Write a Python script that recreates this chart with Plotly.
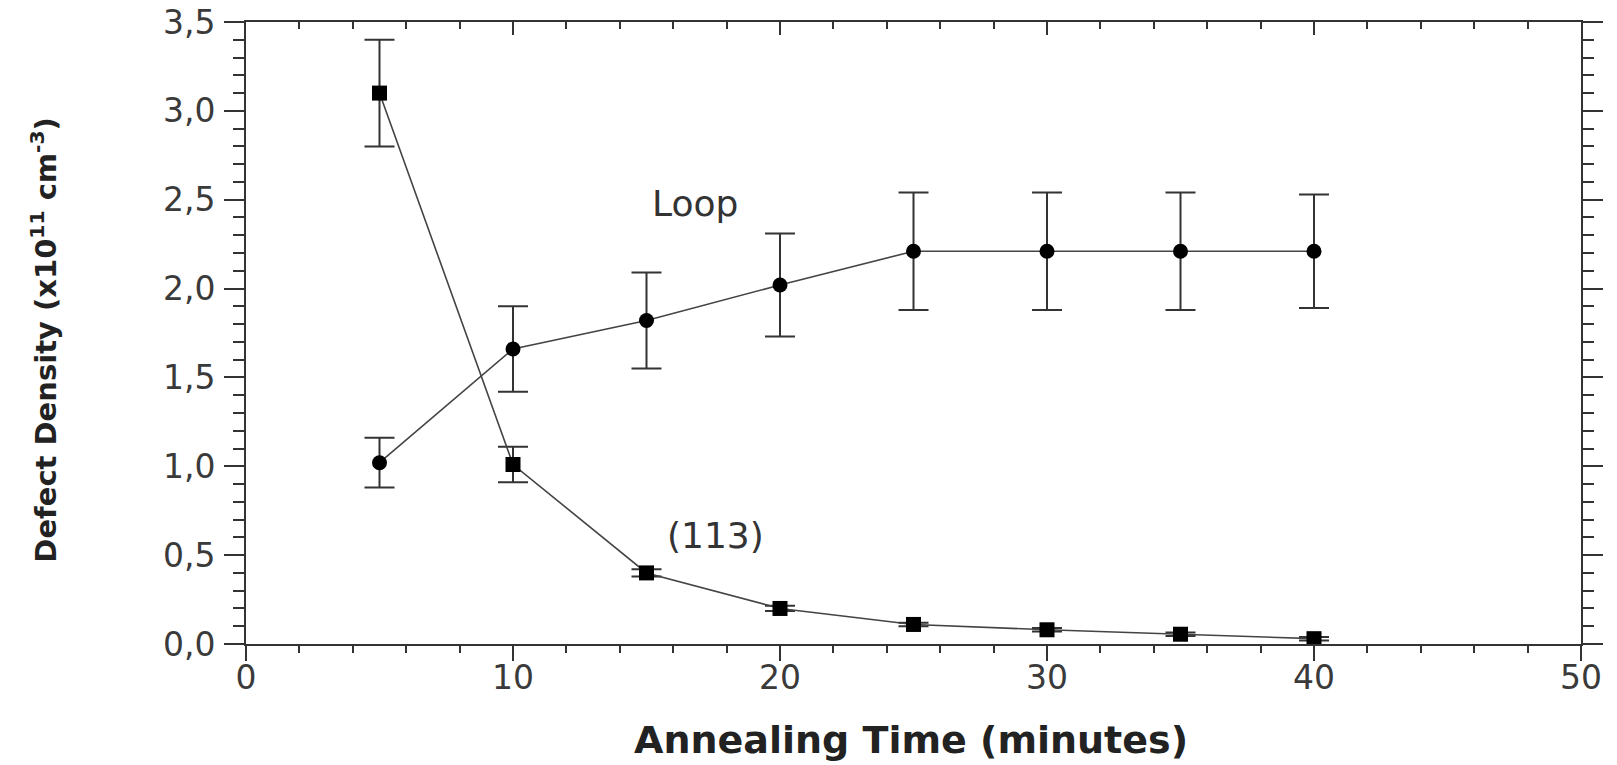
import plotly.graph_objects as go

time_min = [5, 10, 15, 20, 25, 30, 35, 40]
loop_density = [1.02, 1.66, 1.82, 2.02, 2.21, 2.21, 2.21, 2.21]
loop_err = [0.14, 0.24, 0.27, 0.29, 0.33, 0.33, 0.33, 0.32]
d113_density = [3.10, 1.01, 0.40, 0.20, 0.11, 0.08, 0.055, 0.03]
d113_err = [0.30, 0.10, 0.02, 0.015, 0.01, 0.01, 0.01, 0.01]

y_tickvals = [0.0, 0.5, 1.0, 1.5, 2.0, 2.5, 3.0, 3.5]
y_ticktext = ["0,0", "0,5", "1,0", "1,5", "2,0", "2,5", "3,0", "3,5"]
x_tickvals = [0, 10, 20, 30, 40, 50]

INK = "#333333"
LABEL = "#3a3a3a"

fig = go.Figure()

fig.add_trace(go.Scatter(
    x=time_min, y=d113_density, mode="lines+markers", name="(113)",
    line=dict(color="#444444", width=1.6),
    marker=dict(symbol="square", size=15, color="black"),
    error_y=dict(type="data", array=d113_err, visible=True, color=INK,
                 thickness=2, width=15),
    showlegend=False,
))
fig.add_trace(go.Scatter(
    x=time_min, y=loop_density, mode="lines+markers", name="Loop",
    line=dict(color="#444444", width=1.6),
    marker=dict(symbol="circle", size=15, color="black"),
    error_y=dict(type="data", array=loop_err, visible=True, color=INK,
                 thickness=2, width=15),
    showlegend=False,
))
# invisible trace to activate top axis
fig.add_trace(go.Scatter(x=[None], y=[None], xaxis="x2", yaxis="y",
                         showlegend=False, hoverinfo="skip"))

tickfont = dict(family="DejaVu Sans", size=33, color=LABEL)

fig.update_layout(
    width=1617, height=765,
    paper_bgcolor="white", plot_bgcolor="white",
    margin=dict(l=246, r=36, t=22, b=121, autoexpand=False),
    xaxis=dict(
        range=[0, 50], tickvals=x_tickvals, ticks="outside", ticklen=15,
        tickwidth=2, tickcolor=INK, showline=True, linecolor=INK, linewidth=2,
        mirror=True, showgrid=False, zeroline=False, tickfont=tickfont,
        ticklabelstandoff=-12, automargin=False, ticklabeloverflow="allow",
        minor=dict(dtick=2, ticks="outside", ticklen=7, tickwidth=2,
                   tickcolor=INK, showgrid=False),
    ),
    xaxis2=dict(
        range=[0, 50], overlaying="x", side="top", matches="x",
        tickvals=x_tickvals, ticks="inside", ticklen=13, tickwidth=2,
        tickcolor=INK, showticklabels=False, showgrid=False, zeroline=False,
        showline=False, automargin=False,
        minor=dict(dtick=2, ticks="inside", ticklen=7, tickwidth=2,
                   tickcolor=INK, showgrid=False),
    ),
    yaxis=dict(
        range=[0, 3.5], tickvals=y_tickvals, ticktext=y_ticktext,
        ticks="outside", ticklen=20, tickwidth=2, tickcolor=INK,
        showline=True, linecolor=INK, linewidth=2, mirror="ticks",
        showgrid=False, zeroline=False, tickfont=tickfont,
        ticklabelstandoff=2, automargin=False, ticklabeloverflow="allow",
        minor=dict(dtick=0.1, ticks="outside", ticklen=11, tickwidth=2,
                   tickcolor=INK, showgrid=False),
    ),
    annotations=[
        dict(text="Annealing Time (minutes)", xref="paper", yref="paper",
             x=0.498, y=-0.154, xanchor="center", yanchor="middle",
             showarrow=False,
             font=dict(family="DejaVu Sans", size=38, color="#222222",
                       weight="bold")),
        dict(text="Defect Density (x10<sup>11</sup> cm<sup>-3</sup>)",
             xref="paper", yref="paper", x=-0.151, y=0.49,
             xanchor="center", yanchor="middle", textangle=-90,
             showarrow=False,
             font=dict(family="DejaVu Sans", size=29, color="#222222",
                       weight="bold")),
        dict(text="Loop", x=16.8, y=2.48, xref="x", yref="y",
             showarrow=False, xanchor="center", yanchor="middle",
             font=dict(family="DejaVu Sans", size=36, color=INK)),
        dict(text="(113)", x=17.6, y=0.61, xref="x", yref="y",
             showarrow=False, xanchor="center", yanchor="middle",
             font=dict(family="DejaVu Sans", size=36, color=INK)),
    ],
)

fig.write_html("out.html", config={"displayModeBar": False},
               post_script="document.body.style.margin='0';")
